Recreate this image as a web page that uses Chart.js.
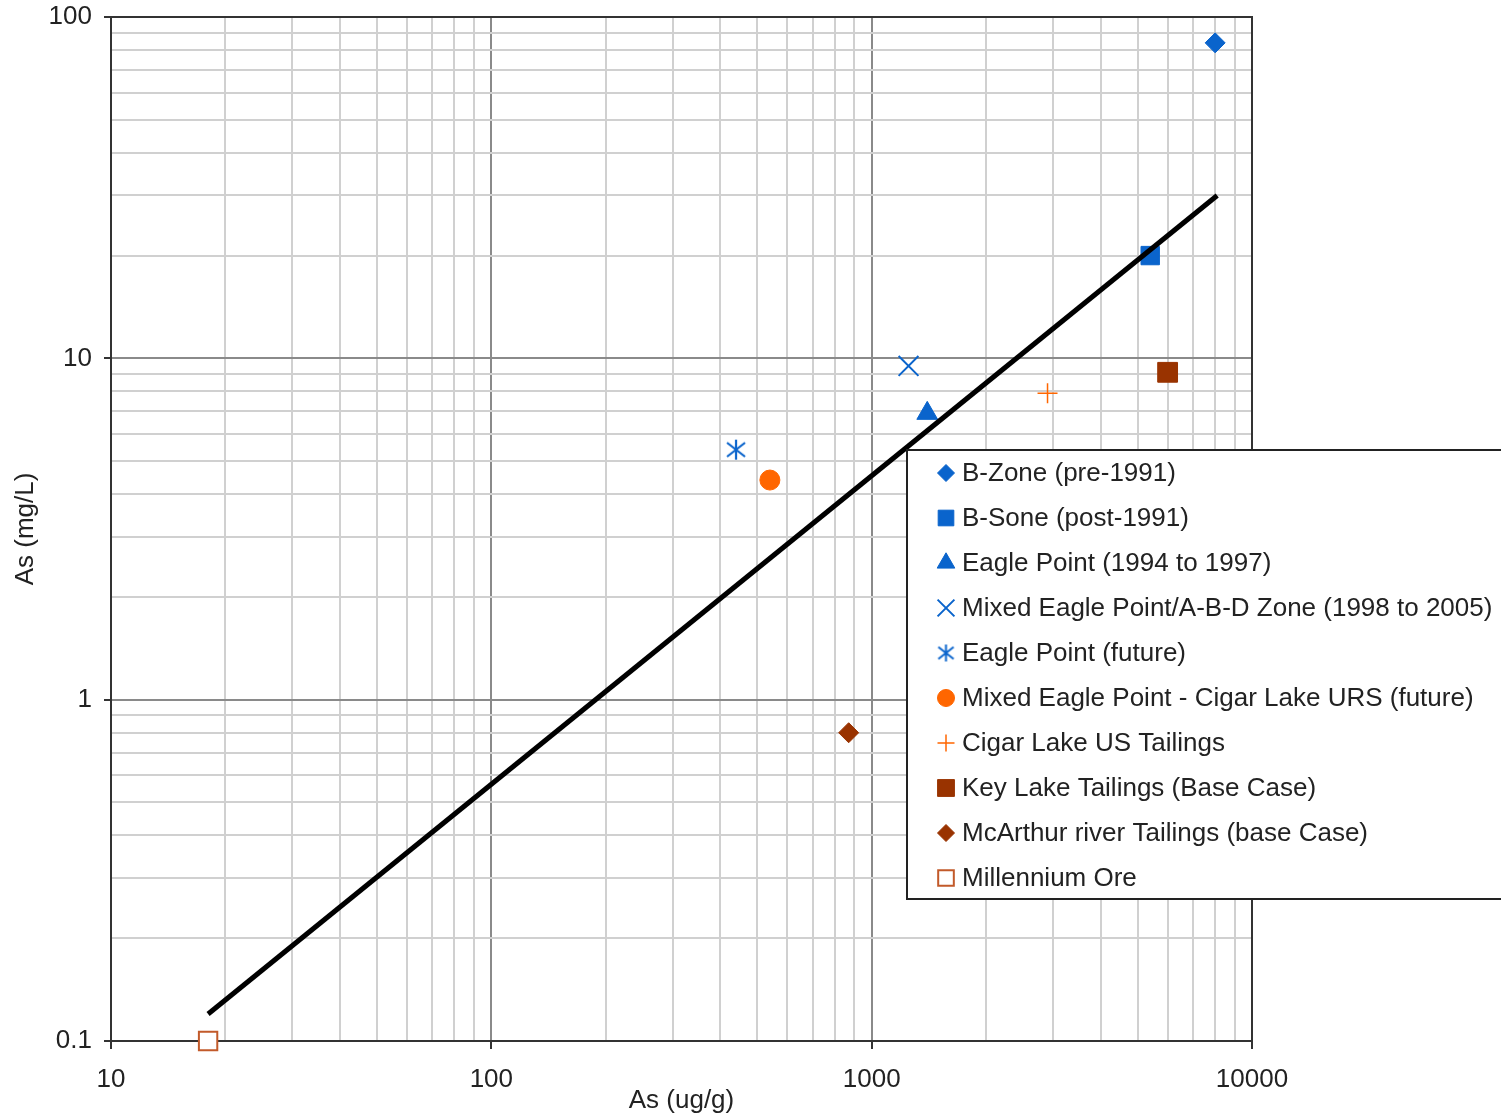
<!DOCTYPE html>
<html>
<head>
<meta charset="utf-8">
<title>As (mg/L) vs As (ug/g)</title>
<script src="https://cdn.jsdelivr.net/npm/chart.js@4.4.1/dist/chart.umd.min.js"></script>
<style>
  html, body { margin: 0; padding: 0; background: #fff; }
  canvas { display: block; }
</style>
</head>
<body>
<canvas id="c" width="1501" height="1116"></canvas>
<script>
// Series names (legend order)
const seriesNames = [
  'B-Zone (pre-1991)',
  'B-Sone (post-1991)',
  'Eagle Point (1994 to 1997)',
  'Mixed Eagle Point/A-B-D Zone (1998 to 2005)',
  'Eagle Point (future)',
  'Mixed Eagle Point - Cigar Lake URS (future)',
  'Cigar Lake US Tailings',
  'Key Lake Tailings (Base Case)',
  'McArthur river Tailings (base Case)',
  'Millennium Ore'
];
// As in solids (ug/g) for each series
const asSolid = [8000, 5400, 1400, 1250, 440, 540, 2900, 6000, 870, 18];
// As in solution (mg/L) for each series
const asSolution = [84, 20, 6.9, 9.5, 5.4, 4.4, 7.9, 9.1, 0.8, 0.1];

// Trend line end points
const trendX = [18, 8100];
const trendY = [0.12, 30];

// Axis tick labels (one per decade)
const xTickLabels = ['10', '100', '1000', '10000'];
const yTickLabels = ['0.1', '1', '10', '100'];

const BLUE = '#0a64cc';
const ORANGE = '#ff6600';
const BROWN = '#993300';
const RUST = '#c25a2a';

// Asterisk marker: X with a vertical bar
function makeAsterisk(size, color, lw) {
  const c = document.createElement('canvas');
  c.width = size; c.height = size;
  const g = c.getContext('2d');
  const m = size / 2;
  const h = size / 2 - 1;
  g.strokeStyle = color;
  g.lineWidth = lw;
  g.beginPath();
  g.moveTo(m, m - h); g.lineTo(m, m + h);
  g.moveTo(m - h * 0.9, m - h * 0.7); g.lineTo(m + h * 0.9, m + h * 0.7);
  g.moveTo(m - h * 0.9, m + h * 0.7); g.lineTo(m + h * 0.9, m - h * 0.7);
  g.stroke();
  return c;
}
const asteriskBig = makeAsterisk(22, BLUE, 2.2);
const asteriskSmall = makeAsterisk(19, BLUE, 2);

const markerStyles = [
  { pointStyle: 'rectRot', radius: 10, bg: BLUE, border: BLUE, bw: 1 },
  { pointStyle: 'rect', radius: 13, bg: BLUE, border: BLUE, bw: 1 },
  { pointStyle: 'triangle', radius: 12, bg: BLUE, border: BLUE, bw: 1 },
  { pointStyle: 'crossRot', radius: 14, bg: BLUE, border: BLUE, bw: 2 },
  { pointStyle: asteriskBig, legendStyle: asteriskSmall, radius: 11, bg: BLUE, border: BLUE, bw: 2 },
  { pointStyle: 'circle', radius: 10, bg: ORANGE, border: ORANGE, bw: 1 },
  { pointStyle: 'cross', radius: 10, bg: ORANGE, border: ORANGE, bw: 1.5 },
  { pointStyle: 'rect', radius: 14, bg: BROWN, border: BROWN, bw: 1 },
  { pointStyle: 'rectRot', radius: 10, bg: BROWN, border: BROWN, bw: 1 },
  { pointStyle: 'rect', radius: 13, bg: '#ffffff', border: RUST, bw: 2 }
];

const datasets = [{
  label: 'trend',
  data: trendX.map((x, i) => ({ x: x, y: trendY[i] })),
  showLine: true,
  borderColor: '#000',
  borderWidth: 5,
  pointRadius: 0,
  pointHoverRadius: 0,
  fill: false,
  order: 0,
  clip: false
}];
seriesNames.forEach((name, i) => {
  const s = markerStyles[i];
  datasets.push({
    label: name,
    data: [{ x: asSolid[i], y: asSolution[i] }],
    pointStyle: s.pointStyle,
    pointRadius: s.radius,
    pointHoverRadius: s.radius,
    backgroundColor: s.bg,
    borderColor: s.border,
    borderWidth: s.bw,
    showLine: false,
    order: 1,
    clip: false
  });
});

function isDecade(v) {
  const l = Math.log10(v);
  return Math.abs(l - Math.round(l)) < 1e-9;
}
function decadeTicks(labels) {
  const vals = labels.map(Number);
  const ticks = [];
  for (let d = 0; d < vals.length; d++) {
    const base = vals[d];
    const last = d === vals.length - 1;
    for (let m = 1; m <= (last ? 1 : 9); m++) {
      ticks.push({ value: Number((m * base).toPrecision(8)) });
    }
  }
  return ticks;
}
function labelFor(labels, v) {
  if (!isDecade(v)) return '';
  const idx = labels.findIndex(t => Math.abs(Number(t) - v) / v < 1e-9);
  return idx >= 0 ? labels[idx] : '';
}
// Labels at the ends may overhang; the layout padding already leaves room
function noOverhang(scale) {
  scale.paddingTop = 0;
  scale.paddingBottom = 0;
  scale.paddingLeft = 0;
  scale.paddingRight = 0;
}

const FONT = "'Liberation Sans', Arial, sans-serif";
const BORDER = '#333';
const TEXT = '#222';

// Frame on top/right plus outward tick marks on the decades
const framePlugin = {
  id: 'frame',
  afterDatasetsDraw(chart) {
    const { ctx, chartArea: a, scales } = chart;
    ctx.save();
    ctx.strokeStyle = BORDER;
    ctx.lineWidth = 2;
    ctx.beginPath();
    ctx.moveTo(a.left, a.top); ctx.lineTo(a.right, a.top); ctx.lineTo(a.right, a.bottom);
    xTickLabels.forEach(t => {
      const px = Math.round(scales.x.getPixelForValue(Number(t)));
      ctx.moveTo(px, a.bottom); ctx.lineTo(px, a.bottom + 8);
    });
    yTickLabels.forEach(t => {
      const py = Math.round(scales.y.getPixelForValue(Number(t)));
      ctx.moveTo(a.left - 7, py); ctx.lineTo(a.left, py);
    });
    ctx.stroke();
    ctx.restore();
  }
};

// Boxed legend in the lower right, overlapping the plot
const legendBox = {
  id: 'legendBox',
  afterDraw(chart) {
    const { ctx } = chart;
    const left = 907, top = 450, bottom = 899, right = 1520;
    ctx.save();
    ctx.fillStyle = '#fff';
    ctx.fillRect(left, top, right - left, bottom - top);
    ctx.strokeStyle = '#222';
    ctx.lineWidth = 2;
    ctx.strokeRect(left, top, right - left, bottom - top);
    ctx.font = '26px ' + FONT;
    ctx.textBaseline = 'middle';
    ctx.textAlign = 'left';
    seriesNames.forEach((name, i) => {
      const y = 473 + 45 * i;
      const s = markerStyles[i];
      const style = s.legendStyle || s.pointStyle;
      ctx.fillStyle = s.bg;
      ctx.strokeStyle = s.border;
      ctx.lineWidth = s.bw;
      Chart.helpers.drawPoint(ctx, {
        pointStyle: style,
        radius: s.radius * 0.85,
        rotation: 0,
        borderWidth: s.bw
      }, 946, y);
      ctx.fillStyle = TEXT;
      ctx.fillText(name, 962, y + 1);
    });
    ctx.restore();
  }
};

new Chart(document.getElementById('c'), {
  type: 'scatter',
  data: { datasets: datasets },
  options: {
    responsive: false,
    animation: false,
    devicePixelRatio: 1,
    layout: { padding: { top: 17, right: 249, left: 0, bottom: 0 } },
    plugins: {
      legend: { display: false },
      tooltip: { enabled: false }
    },
    scales: {
      x: {
        type: 'logarithmic',
        position: 'bottom',
        min: 10,
        max: 10000,
        afterBuildTicks(scale) { scale.ticks = decadeTicks(xTickLabels); },
        afterFit(scale) { scale.height = 75; noOverhang(scale); },
        ticks: {
          autoSkip: false,
          maxRotation: 0,
          padding: 23,
          color: TEXT,
          font: { family: FONT, size: 26 },
          callback: v => labelFor(xTickLabels, v)
        },
        grid: {
          drawTicks: false,
          lineWidth: 2,
          color: c => (c.tick && isDecade(c.tick.value)) ? '#8a8a8a' : '#d0d0d0'
        },
        border: { color: BORDER, width: 2 },
        title: {
          display: true,
          text: 'As (ug/g)',
          color: TEXT,
          font: { family: FONT, size: 26 },
          padding: { top: 0, bottom: 0 }
        }
      },
      y: {
        type: 'logarithmic',
        position: 'left',
        min: 0.1,
        max: 100,
        afterBuildTicks(scale) { scale.ticks = decadeTicks(yTickLabels); },
        afterFit(scale) { scale.width = 111; noOverhang(scale); },
        ticks: {
          autoSkip: false,
          padding: 19,
          color: TEXT,
          font: { family: FONT, size: 26 },
          callback: v => labelFor(yTickLabels, v)
        },
        grid: {
          drawTicks: false,
          lineWidth: 2,
          color: c => (c.tick && isDecade(c.tick.value)) ? '#8a8a8a' : '#d0d0d0'
        },
        border: { color: BORDER, width: 2 },
        title: {
          display: true,
          text: 'As (mg/L)',
          color: TEXT,
          font: { family: FONT, size: 26 },
          padding: { top: 10, bottom: 0 }
        }
      }
    }
  },
  plugins: [framePlugin, legendBox]
});
</script>
</body>
</html>
